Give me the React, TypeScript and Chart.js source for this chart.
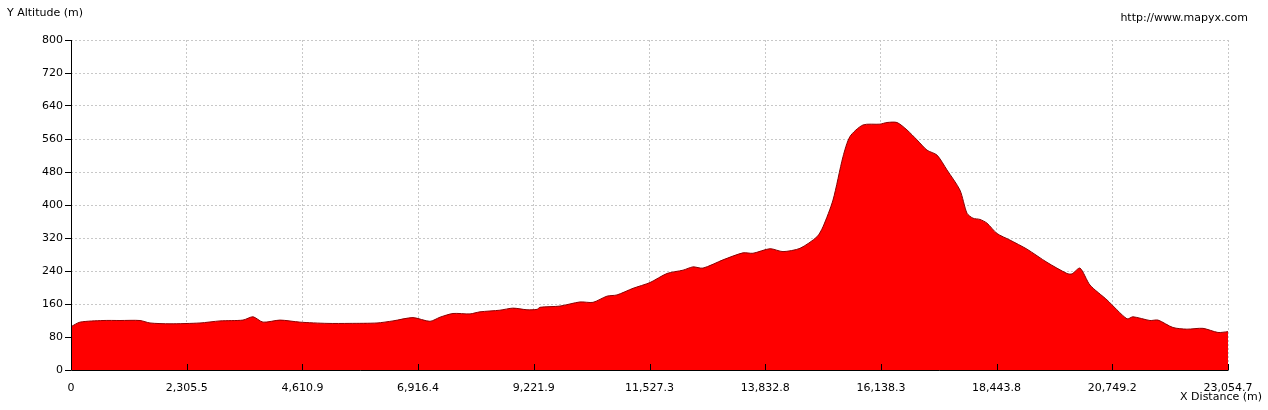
import React, { useEffect, useRef } from "react";
import { Chart, registerables } from "chart.js";

Chart.register(...registerables);

const distances = [
  0, 179, 638, 976, 1375, 1574, 1973, 2570, 2969, 3427, 3627, 3826, 4165, 4563, 5101, 5559, 6097, 6416,
  6815, 7153, 7353, 7612, 7951, 8150, 8548, 8807, 9086, 9286, 9345, 9744, 10142, 10401, 10680, 10880,
  11199, 11537, 11876, 12195, 12394, 12593, 12992, 13390, 13589, 13928, 14187, 14526, 14865, 14984,
  15184, 15383, 15522, 15781, 16120, 16259, 16459, 16658, 16857, 17057, 17256, 17455, 17714, 17854,
  17973, 18113, 18252, 18451, 18710, 19049, 19448, 19846, 19946, 20105, 20304, 20643, 21042, 21161,
  21500, 21660, 21958, 22237, 22556, 22855, 23054.7,
];

const altitudes = [
  105, 116, 120, 120, 120, 114, 112, 114, 119, 121, 129, 116, 121, 116, 113, 113, 114, 119,
  127, 118, 128, 137, 136, 141, 145, 150, 146, 147, 152, 155, 165, 164, 179, 182,
  198, 212, 234, 242, 250, 247, 267, 284, 283, 294, 287, 295, 323, 347,
  412, 517, 566, 594, 596, 600, 600, 582, 558, 533, 521, 485, 436, 380,
  368, 365, 356, 331, 315, 293, 261, 234, 233, 247, 206, 170, 124, 129,
  120, 121, 103, 99, 101, 91, 93,
];

const xTickValues = [0, 2305.47, 4610.94, 6916.41, 9221.88, 11527.35, 13832.82, 16138.29, 18443.76, 20749.23, 23054.7];
const xTickLabels = ["0", "2,305.5", "4,610.9", "6,916.4", "9,221.9", "11,527.3", "13,832.8", "16,138.3", "18,443.8", "20,749.2", "23,054.7"];
const yTickValues = [0, 80, 160, 240, 320, 400, 480, 560, 640, 720, 800];

const yTitle = "Y Altitude (m)";
const xTitle = "X Distance (m)";
const siteText = "http://www.mapyx.com";

const FONT = "DejaVu Sans";

const overlayPlugin = {
  id: "overlay",
  afterDatasetsDraw(chart: any) {
    const { ctx, chartArea, scales } = chart;
    ctx.save();
    ctx.strokeStyle = "#000";
    ctx.lineWidth = 1;
    ctx.beginPath();
    ctx.moveTo(chartArea.left + 0.5, chartArea.top);
    ctx.lineTo(chartArea.left + 0.5, chartArea.bottom + 0.5);
    ctx.lineTo(chartArea.right + 0.5, chartArea.bottom + 0.5);
    ctx.stroke();
    const xs = scales.x;
    ctx.beginPath();
    xTickValues.forEach((v) => {
      const px = Math.round(xs.getPixelForValue(v)) + 0.5;
      ctx.moveTo(px, chartArea.bottom - 6);
      ctx.lineTo(px, chartArea.bottom);
    });
    ctx.stroke();
    ctx.restore();
  },
  afterDraw(chart: any) {
    const { ctx, chartArea } = chart;
    ctx.save();
    ctx.fillStyle = "#000";
    ctx.font = `11px "${FONT}"`;
    ctx.textBaseline = "middle";
    ctx.textAlign = "left";
    ctx.fillText(yTitle, 7, 13);
    ctx.textAlign = "right";
    ctx.fillText(siteText, 1248, 18);
    ctx.fillText(xTitle, 1262, chartArea.bottom + 27);
    ctx.restore();
  },
};

export default function App() {
  const ref = useRef<HTMLCanvasElement>(null);

  useEffect(() => {
    document.body.style.margin = "0";
    const points = distances.map((d, i) => ({ x: d, y: altitudes[i] }));
    const chart = new Chart(ref.current as HTMLCanvasElement, {
      type: "line",
      data: {
        datasets: [
          {
            data: points,
            borderColor: "#8a0000",
            borderWidth: 1,
            backgroundColor: "#ff0000",
            fill: "origin",
            pointRadius: 0,
            tension: 0.25,
          },
        ],
      },
      options: {
        animation: false,
        responsive: false,
        devicePixelRatio: 1,
        layout: { padding: { top: 40, right: 40, left: 0, bottom: 0 } },
        plugins: { legend: { display: false }, tooltip: { enabled: false } },
        scales: {
          x: {
            type: "linear",
            min: 0,
            max: 23054.7,
            afterBuildTicks: (scale: any) => {
              scale.ticks = xTickValues.map((v) => ({ value: v }));
            },
            afterFit: (scale: any) => {
              scale.height = 40;
            },
            grid: { color: "#c8c8c8", drawTicks: false, lineWidth: 1 },
            border: { display: false, dash: [2, 2] },
            ticks: {
              autoSkip: false,
              maxRotation: 0,
              padding: 12,
              color: "#000",
              font: { family: FONT, size: 11 },
              callback: (_v: any, i: number) => xTickLabels[i],
            },
          },
          y: {
            type: "linear",
            min: 0,
            max: 800,
            afterBuildTicks: (scale: any) => {
              scale.ticks = yTickValues.map((v) => ({ value: v }));
            },
            afterFit: (scale: any) => {
              scale.width = 71;
            },
            grid: {
              color: "#c8c8c8",
              drawTicks: true,
              tickLength: 6,
              tickColor: "#000",
              lineWidth: 1,
            },
            border: { display: false, dash: [2, 2] },
            ticks: {
              padding: 2,
              color: "#000",
              font: { family: FONT, size: 11 },
              callback: (v: any) => String(v),
            },
          },
        },
      },
      plugins: [overlayPlugin],
    });
    return () => chart.destroy();
  }, []);

  return (
    <div style={{ position: "absolute", left: 0, top: 0, width: 1268, height: 410, background: "#fff" }}>
      <canvas ref={ref} width={1268} height={410} style={{ width: 1268, height: 410 }} />
    </div>
  );
}
